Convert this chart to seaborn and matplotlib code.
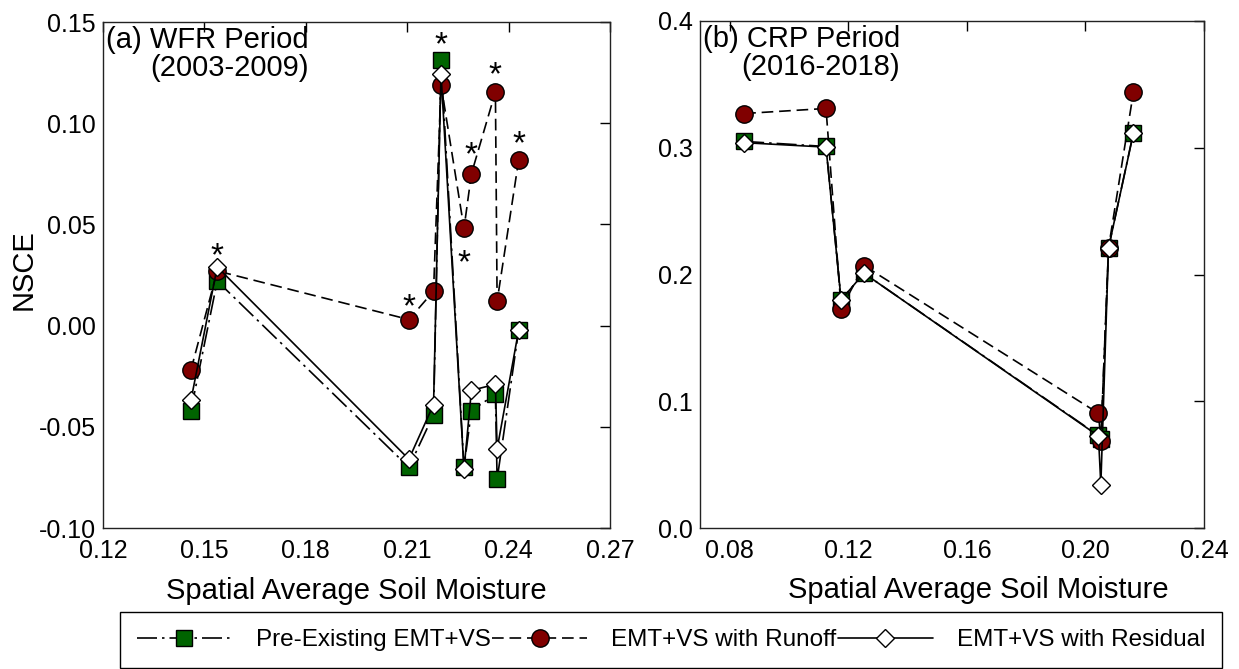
import matplotlib
matplotlib.use("Agg")
import matplotlib.pyplot as plt
import seaborn as sns
import pandas as pd

# (a) WFR period, 2003-2009
x_wfr = [0.1460, 0.1538, 0.2105, 0.2178, 0.2200, 0.2268, 0.2290, 0.2361, 0.2366, 0.2430]
pre_wfr = [-0.042, 0.022, -0.070, -0.044, 0.131, -0.070, -0.042, -0.034, -0.076, -0.002]
runoff_wfr = [-0.022, 0.027, 0.003, 0.017, 0.119, 0.048, 0.075, 0.1155, 0.012, 0.082]
resid_wfr = [-0.037, 0.029, -0.066, -0.039, 0.1245, -0.071, -0.032, -0.029, -0.061, -0.002]

# significance stars in panel (a)
star_x = [0.1538, 0.2105, 0.2200, 0.2268, 0.2290, 0.2361, 0.2430]
star_y = [0.0383, 0.0131, 0.1425, 0.0349, 0.0882, 0.1275, 0.0933]

# (b) CRP period, 2016-2018
x_crp = [0.0849, 0.1125, 0.1176, 0.1253, 0.2044, 0.2052, 0.2078, 0.2162]
pre_crp = [0.305, 0.301, 0.180, 0.201, 0.073, 0.070, 0.221, 0.312]
runoff_crp = [0.327, 0.331, 0.173, 0.207, 0.0905, 0.069, 0.221, 0.344]
resid_crp = [0.304, 0.3005, 0.180, 0.201, 0.0726, 0.034, 0.221, 0.3115]

labels = ["Pre-Existing EMT+VS", "EMT+VS with Runoff", "EMT+VS with Residual"]

sns.set_theme(style="white")
plt.rcParams["font.family"] = ["Liberation Sans", "DejaVu Sans"]
plt.rcParams["axes.unicode_minus"] = False
plt.rcParams["text.color"] = "black"
plt.rcParams["axes.labelcolor"] = "black"

W, H = 1239, 669
fig = plt.figure(figsize=(W / 100, H / 100), dpi=100)
ax1 = fig.add_axes([103 / W, 1 - 528 / H, 507 / W, 506 / H])
ax2 = fig.add_axes([700 / W, 1 - 528 / H, 504 / W, 507 / H])

styles = [
    dict(color="black", marker="s", markersize=11, markerfacecolor="#006400",
         linestyle=(0, (12, 3, 1.5, 3))),
    dict(color="black", marker="o", markersize=12.5, markerfacecolor="#800000",
         linestyle=(0, (7, 3.5))),
    dict(color="black", marker="D", markersize=9, markerfacecolor="white",
         linestyle="-"),
]


def draw(ax, x, series):
    for ys, st, lab in zip(series, styles, labels):
        df = pd.DataFrame({"x": x, "y": ys})
        sns.lineplot(data=df, x="x", y="y", ax=ax, estimator=None, sort=False,
                     linewidth=1.2, markeredgecolor="black", markeredgewidth=1,
                     label=lab, **st)
    if ax.get_legend() is not None:
        ax.get_legend().remove()


draw(ax1, x_wfr, [pre_wfr, runoff_wfr, resid_wfr])
draw(ax2, x_crp, [pre_crp, runoff_crp, resid_crp])

for sx, sy in zip(star_x, star_y):
    ax1.annotate("*", (sx, sy), xytext=(0, -6), textcoords="offset points",
                 ha="center", va="center", fontsize=24, color="black")

ax1.set_xlim(0.12, 0.27)
ax1.set_ylim(-0.10, 0.15)
ax1.set_xticks([0.12, 0.15, 0.18, 0.21, 0.24, 0.27])
ax1.set_xticklabels(["0.12", "0.15", "0.18", "0.21", "0.24", "0.27"])
ax1.set_yticks([-0.10, -0.05, 0.0, 0.05, 0.10, 0.15])
ax1.set_yticklabels(["-0.10", "-0.05", "0.00", "0.05", "0.10", "0.15"])

ax2.set_xlim(0.07, 0.24)
ax2.set_ylim(0.0, 0.4)
ax2.set_xticks([0.08, 0.12, 0.16, 0.20, 0.24])
ax2.set_xticklabels(["0.08", "0.12", "0.16", "0.20", "0.24"])
ax2.set_yticks([0.0, 0.1, 0.2, 0.3, 0.4])
ax2.set_yticklabels(["0.0", "0.1", "0.2", "0.3", "0.4"])

for ax in (ax1, ax2):
    ax.tick_params(direction="in", top=True, right=True, length=7, width=1,
                   labelsize=18, colors="black")
    ax.tick_params(axis="x", pad=8)
    ax.tick_params(axis="y", pad=5)
    for sp in ax.spines.values():
        sp.set_color("#222222")
        sp.set_linewidth(1)
    ax.set_xlabel("Spatial Average Soil Moisture", fontsize=21, color="black")
    ax.set_ylabel("")

ax1.set_ylabel("NSCE", fontsize=21, color="black")
ax1.yaxis.set_label_coords(-0.128, 0.51)
ax1.xaxis.set_label_coords(0.5, -0.097)
ax2.xaxis.set_label_coords(0.553, -0.095)

ax1.text(0.006, 0.992, "(a) WFR Period\n(2003-2009)", transform=ax1.transAxes,
         ha="left", va="top", multialignment="right", fontsize=21, linespacing=1.0)
ax2.text(0.006, 0.992, "(b) CRP Period\n(2016-2018)", transform=ax2.transAxes,
         ha="left", va="top", multialignment="right", fontsize=21, linespacing=1.0)

handles, labs = ax1.get_legend_handles_labels()
leg = fig.legend(handles, labs, loc="upper left", bbox_to_anchor=(120 / W, 1 - 612 / H),
                 ncol=3, frameon=True, fancybox=False, edgecolor="black", framealpha=1,
                 fontsize=17.5, handlelength=3.9, handletextpad=1.0, columnspacing=0.05,
                 borderpad=0.7, borderaxespad=0)
leg.get_frame().set_linewidth(1)

fig.savefig("out.png", dpi=100)
